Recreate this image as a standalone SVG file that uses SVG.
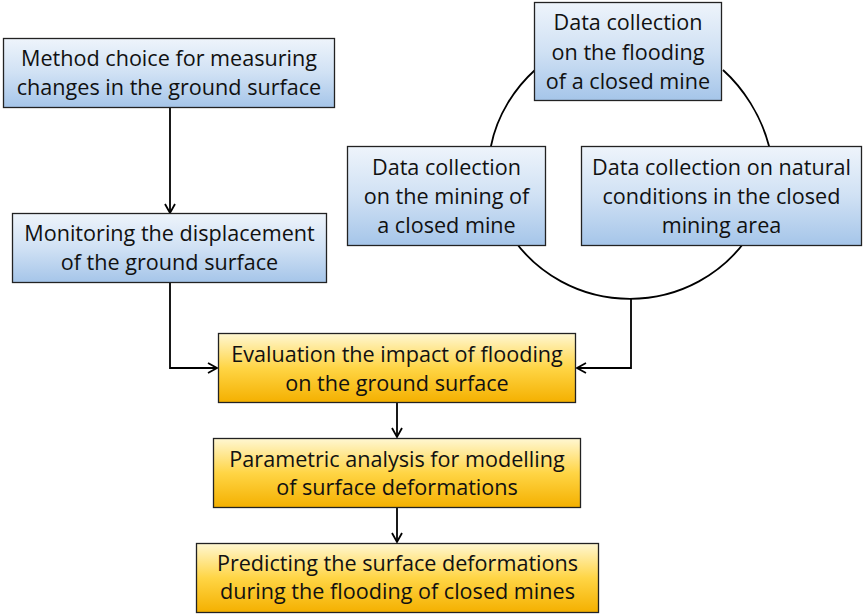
<svg xmlns="http://www.w3.org/2000/svg" width="866" height="615" viewBox="0 0 866 615">
<defs>
<linearGradient id="gBlue" x1="0" y1="0" x2="0" y2="1">
<stop offset="0" stop-color="#eef4fb"/>
<stop offset="0.5" stop-color="#d0e1f4"/>
<stop offset="1" stop-color="#a5c5e9"/>
</linearGradient>
<linearGradient id="gYel" x1="0" y1="0" x2="0" y2="1">
<stop offset="0" stop-color="#fff7d2"/>
<stop offset="0.5" stop-color="#ffd545"/>
<stop offset="1" stop-color="#f4b000"/>
</linearGradient>
<marker id="arr" markerUnits="userSpaceOnUse" markerWidth="12" markerHeight="12" refX="10" refY="6" orient="auto">
<path d="M1,1 L10,6 L1,11" fill="none" stroke="#000" stroke-width="1.8"/>
</marker>
</defs>
<style>
.blue{fill:url(#gBlue);stroke:#222;stroke-width:1.3}
.yel{fill:url(#gYel);stroke:#222;stroke-width:1.3}
.t{font-family:"Open Sans","Liberation Sans",sans-serif;font-size:21.6px;fill:#111;text-anchor:middle}
.c{fill:none;stroke:#000;stroke-width:1.8}
</style>
<rect width="866" height="615" fill="#fff"/>
<g id="connectors">
<path class="c" d="M545,61 L535,70 C515,88 497,115 491,146 L489,160"/>
<path class="c" d="M723,70 C743,88 761,115 769,146 L771,160"/>
<path class="c" d="M514,240 A142 139 0 0 0 746,240"/>
<path class="c" d="M170,108 V213" marker-end="url(#arr)"/>
<path class="c" d="M170,283 V368 H217" marker-end="url(#arr)"/>
<path class="c" d="M631,299 V368 H577" marker-end="url(#arr)"/>
<path class="c" d="M397,403 V437" marker-end="url(#arr)"/>
<path class="c" d="M397,508 V542" marker-end="url(#arr)"/>
</g>
<g id="n-method">
<rect class="blue" x="3.5" y="38.5" width="331" height="69"/>
<text class="t" x="169" y="66">Method choice for measuring</text>
<text class="t" x="169" y="95">changes in the ground surface</text>
</g>
<g id="n-monitor">
<rect class="blue" x="12.5" y="213.5" width="314" height="69"/>
<text class="t" x="169.5" y="241">Monitoring the displacement</text>
<text class="t" x="169.5" y="270">of the ground surface</text>
</g>
<g id="n-flood">
<rect class="blue" x="534.5" y="2.5" width="187" height="98"/>
<text class="t" x="628" y="30">Data collection</text>
<text class="t" x="628" y="60">on the flooding</text>
<text class="t" x="628" y="89">of a closed mine</text>
</g>
<g id="n-mining">
<rect class="blue" x="347.5" y="146.5" width="198" height="99"/>
<text class="t" x="446.5" y="175">Data collection</text>
<text class="t" x="446.5" y="204">on the mining of</text>
<text class="t" x="446.5" y="233">a closed mine</text>
</g>
<g id="n-natural">
<rect class="blue" x="581.5" y="146.5" width="280" height="99"/>
<text class="t" x="721.5" y="175">Data collection on natural</text>
<text class="t" x="721.5" y="204">conditions in the closed</text>
<text class="t" x="721.5" y="233">mining area</text>
</g>
<g id="n-eval">
<rect class="yel" x="218.5" y="333.5" width="357" height="69"/>
<text class="t" x="397" y="362">Evaluation the impact of flooding</text>
<text class="t" x="397" y="391">on the ground surface</text>
</g>
<g id="n-param">
<rect class="yel" x="213.5" y="438.5" width="367" height="69"/>
<text class="t" x="397" y="467">Parametric analysis for modelling</text>
<text class="t" x="397" y="495">of surface deformations</text>
</g>
<g id="n-predict">
<rect class="yel" x="196.5" y="543.5" width="402" height="69"/>
<text class="t" x="397.5" y="571">Predicting the surface deformations</text>
<text class="t" x="397.5" y="599">during the flooding of closed mines</text>
</g>
</svg>
